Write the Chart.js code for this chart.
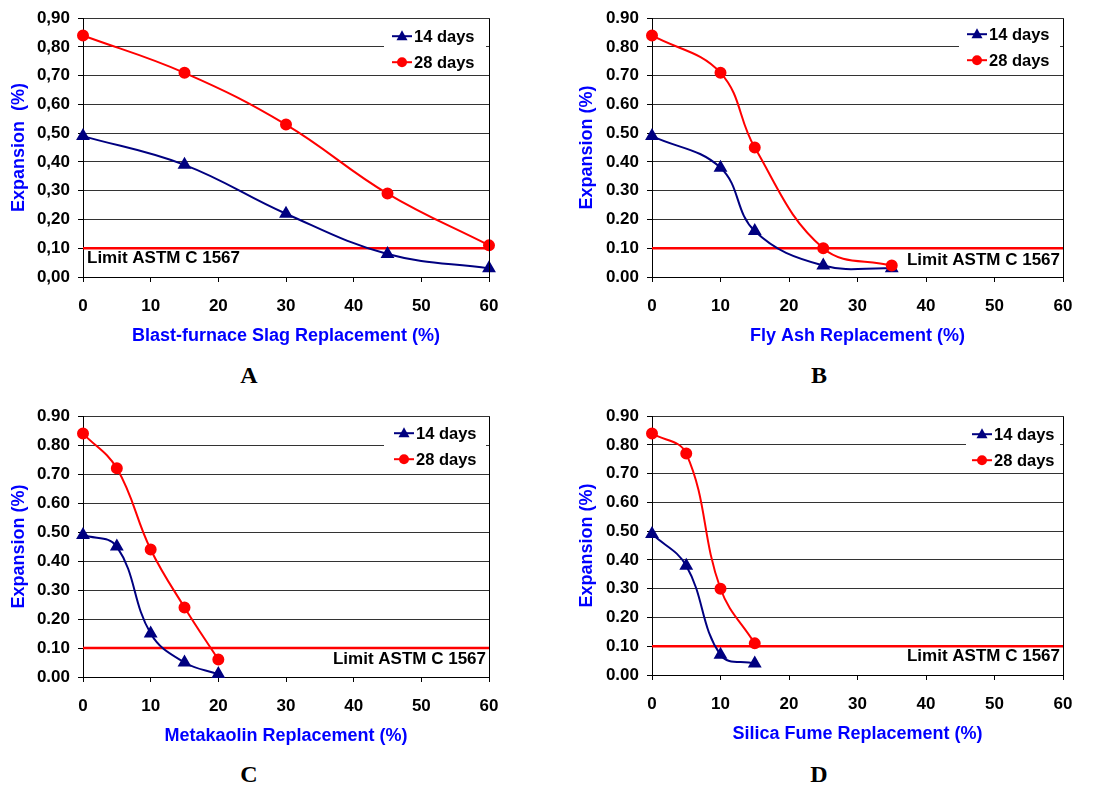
<!DOCTYPE html>
<html>
<head>
<meta charset="utf-8">
<script src="https://cdn.jsdelivr.net/npm/chart.js@4.4.0/dist/chart.umd.min.js"></script>
<style>
  body{margin:0;background:#fff;width:1103px;height:787px;position:relative;overflow:hidden}
  .box{position:absolute}
  .letter{position:absolute;font-family:'Liberation Serif','Times New Roman',serif;font-weight:bold;font-size:24px;color:#000;transform:translate(-50%,-50%)}
</style>
</head>
<body>
<div class="box" style="left:0;top:0;width:520px;height:350px"><canvas id="cA"></canvas></div>
<div class="box" style="left:569px;top:0;width:525px;height:350px"><canvas id="cB"></canvas></div>
<div class="box" style="left:0;top:398px;width:520px;height:352px"><canvas id="cC"></canvas></div>
<div class="box" style="left:569px;top:398px;width:525px;height:350px"><canvas id="cD"></canvas></div>
<div class="letter" style="left:249px;top:375px">A</div>
<div class="letter" style="left:819px;top:375px">B</div>
<div class="letter" style="left:249px;top:774px">C</div>
<div class="letter" style="left:819px;top:774px">D</div>
<script>
// expansion vs replacement level, four binders
const xTicks = [0,10,20,30,40,50,60];
const LIMIT = 0.10;

const slagX    = [0,15,30,45,60];
const slag14   = [0.49,0.39,0.22,0.08,0.03];
const slag28   = [0.84,0.71,0.53,0.29,0.11];

const flyX     = [0,10,15,25,35];
const fly14    = [0.49,0.38,0.16,0.04,0.03];
const fly28    = [0.84,0.71,0.45,0.10,0.04];

const metaX    = [0,5,10,15,20];
const meta14   = [0.49,0.45,0.15,0.05,0.01];
const meta28   = [0.84,0.72,0.44,0.24,0.06];

const silicaX  = [0,5,10,15];
const silica14 = [0.49,0.38,0.07,0.04];
const silica28 = [0.84,0.77,0.30,0.11];

const FONT = "'Liberation Sans', Arial, sans-serif";
const NAVY = '#000080';
const RED = '#ff0000';

function pts(xs, ys){ return xs.map((x,i) => ({x, y: ys[i]})); }

// white legend box + "Limit ASTM C 1567" label + plot frame
const extras = {
  id: 'extras',
  afterDatasetsDraw(chart, args, o){
    const {ctx, chartArea: a, scales} = chart;
    ctx.save();
    ctx.strokeStyle = '#000'; ctx.lineWidth = 1;
    ctx.beginPath();
    ctx.moveTo(Math.round(a.right)+0.5, a.top); ctx.lineTo(Math.round(a.right)+0.5, a.bottom);
    ctx.stroke();

    // legend
    const lx = a.right - o.legendW;
    ctx.fillStyle = '#fff';
    ctx.fillRect(lx, a.top + 3, o.legendW - 3, 52);
    ctx.font = 'bold 16.5px ' + FONT;
    ctx.textBaseline = 'middle';
    chart.data.datasets.slice(0,2).forEach((ds,i) => {
      const y = a.top + o.legendY + i*26;
      const x0 = lx + o.legendPad;
      ctx.strokeStyle = ds.borderColor; ctx.lineWidth = 2;
      ctx.beginPath(); ctx.moveTo(x0, y); ctx.lineTo(x0+20, y); ctx.stroke();
      ctx.fillStyle = ds.borderColor;
      ctx.beginPath();
      if(ds.pointStyle === 'triangle'){
        ctx.moveTo(x0+10, y-6); ctx.lineTo(x0+15.5, y+4); ctx.lineTo(x0+4.5, y+4); ctx.closePath();
      } else {
        ctx.arc(x0+10, y, 5, 0, Math.PI*2);
      }
      ctx.fill();
      ctx.fillStyle = '#000';
      ctx.textAlign = 'left';
      ctx.fillText(ds.label, x0+22, y+1);
    });

    // limit label
    const ly = scales.y.getPixelForValue(LIMIT) + o.limitDy;
    ctx.fillStyle = '#000';
    ctx.font = 'bold 17px ' + FONT;
    if(o.limitAlign === 'left'){
      ctx.textAlign = 'left'; ctx.fillText('Limit ASTM C 1567', a.left + 4, ly);
    } else {
      ctx.textAlign = 'right'; ctx.fillText('Limit ASTM C 1567', a.right - 3, ly);
    }
    ctx.restore();
  }
};

function makeChart(id, xs, d14, d28, xTitle, yTitle, comma, opt){
  const ctx = document.getElementById(id);
  return new Chart(ctx, {
    type: 'line',
    data: {
      datasets: [
        { label:'14 days', data: pts(xs,d14), borderColor: NAVY, backgroundColor: NAVY,
          borderWidth: 2, pointStyle: 'triangle', pointRadius: 6, tension: 0.4, order: 1, clip: false },
        { label:'28 days', data: pts(xs,d28), borderColor: RED, backgroundColor: RED,
          borderWidth: 2, pointStyle: 'circle', pointRadius: 5, tension: 0.4, order: 0, clip: false },
        { label:'limit', data: [{x:xTicks[0], y:LIMIT},{x:xTicks[xTicks.length-1], y:LIMIT}],
          borderColor: RED, borderWidth: 2.5, pointRadius: 0, tension: 0, order: 2 }
      ]
    },
    options: {
      responsive: true,
      maintainAspectRatio: false,
      animation: false,
      layout: { padding: { top: 15, right: 31, bottom: 0, left: 0 } },
      plugins: {
        legend: { display: false },
        tooltip: { enabled: false },
        extras: opt
      },
      scales: {
        x: {
          type: 'linear', min: 0, max: 60,
          afterBuildTicks: s => { s.ticks = xTicks.map(v => ({value: v})); },
          afterFit: s => { s.height = opt.xH; },
          grid: { drawOnChartArea: false, drawTicks: true, tickLength: 5, tickColor: '#000' },
          border: { color: '#000', width: 1 },
          ticks: { color: '#000', font: { family: FONT, size: 17, weight: 'bold' }, padding: 14, maxRotation: 0 },
          title: { display: true, text: xTitle, color: '#0000ff',
                   font: { family: FONT, size: 18, weight: 'bold' }, padding: { top: 0, bottom: 3 } }
        },
        y: {
          min: 0, max: 0.9,
          ticks: { stepSize: 0.1, color: '#000', padding: 8,
                   font: { family: FONT, size: 17, weight: 'bold' },
                   callback: v => comma ? v.toFixed(2).replace('.', ',') : v.toFixed(2) },
          afterFit: s => { s.width = 83; },
          grid: { color: '#333', lineWidth: 1, tickLength: 5, tickColor: '#000' },
          border: { color: '#000', width: 1 },
          title: { display: true, text: yTitle, color: '#0000ff',
                   font: { family: FONT, size: 18, weight: 'bold' }, padding: { top: opt.yPad, bottom: 0 } }
        }
      }
    },
    plugins: [extras]
  });
}

makeChart('cA', slagX, slag14, slag28, 'Blast-furnace Slag Replacement (%)', 'Expansion  (%)', true,
  { legendW: 105, legendPad: 8, legendY: 18, limitAlign: 'left', limitDy: 10, xH: 73, yPad: 8 });
makeChart('cB', flyX, fly14, fly28, 'Fly Ash Replacement (%)', 'Expansion (%)', false,
  { legendW: 104, legendPad: 8, legendY: 16, limitAlign: 'right', limitDy: 12, xH: 73, yPad: 7 });
makeChart('cC', metaX, meta14, meta28, 'Metakaolin Replacement (%)', 'Expansion (%)', false,
  { legendW: 105, legendPad: 10, legendY: 17, limitAlign: 'right', limitDy: 11, xH: 73, yPad: 8 });
makeChart('cD', silicaX, silica14, silica28, 'Silica Fume Replacement (%)', 'Expansion (%)', false,
  { legendW: 97, legendPad: 6, legendY: 18, limitAlign: 'right', limitDy: 10, xH: 73, yPad: 7 });
</script>
</body>
</html>
